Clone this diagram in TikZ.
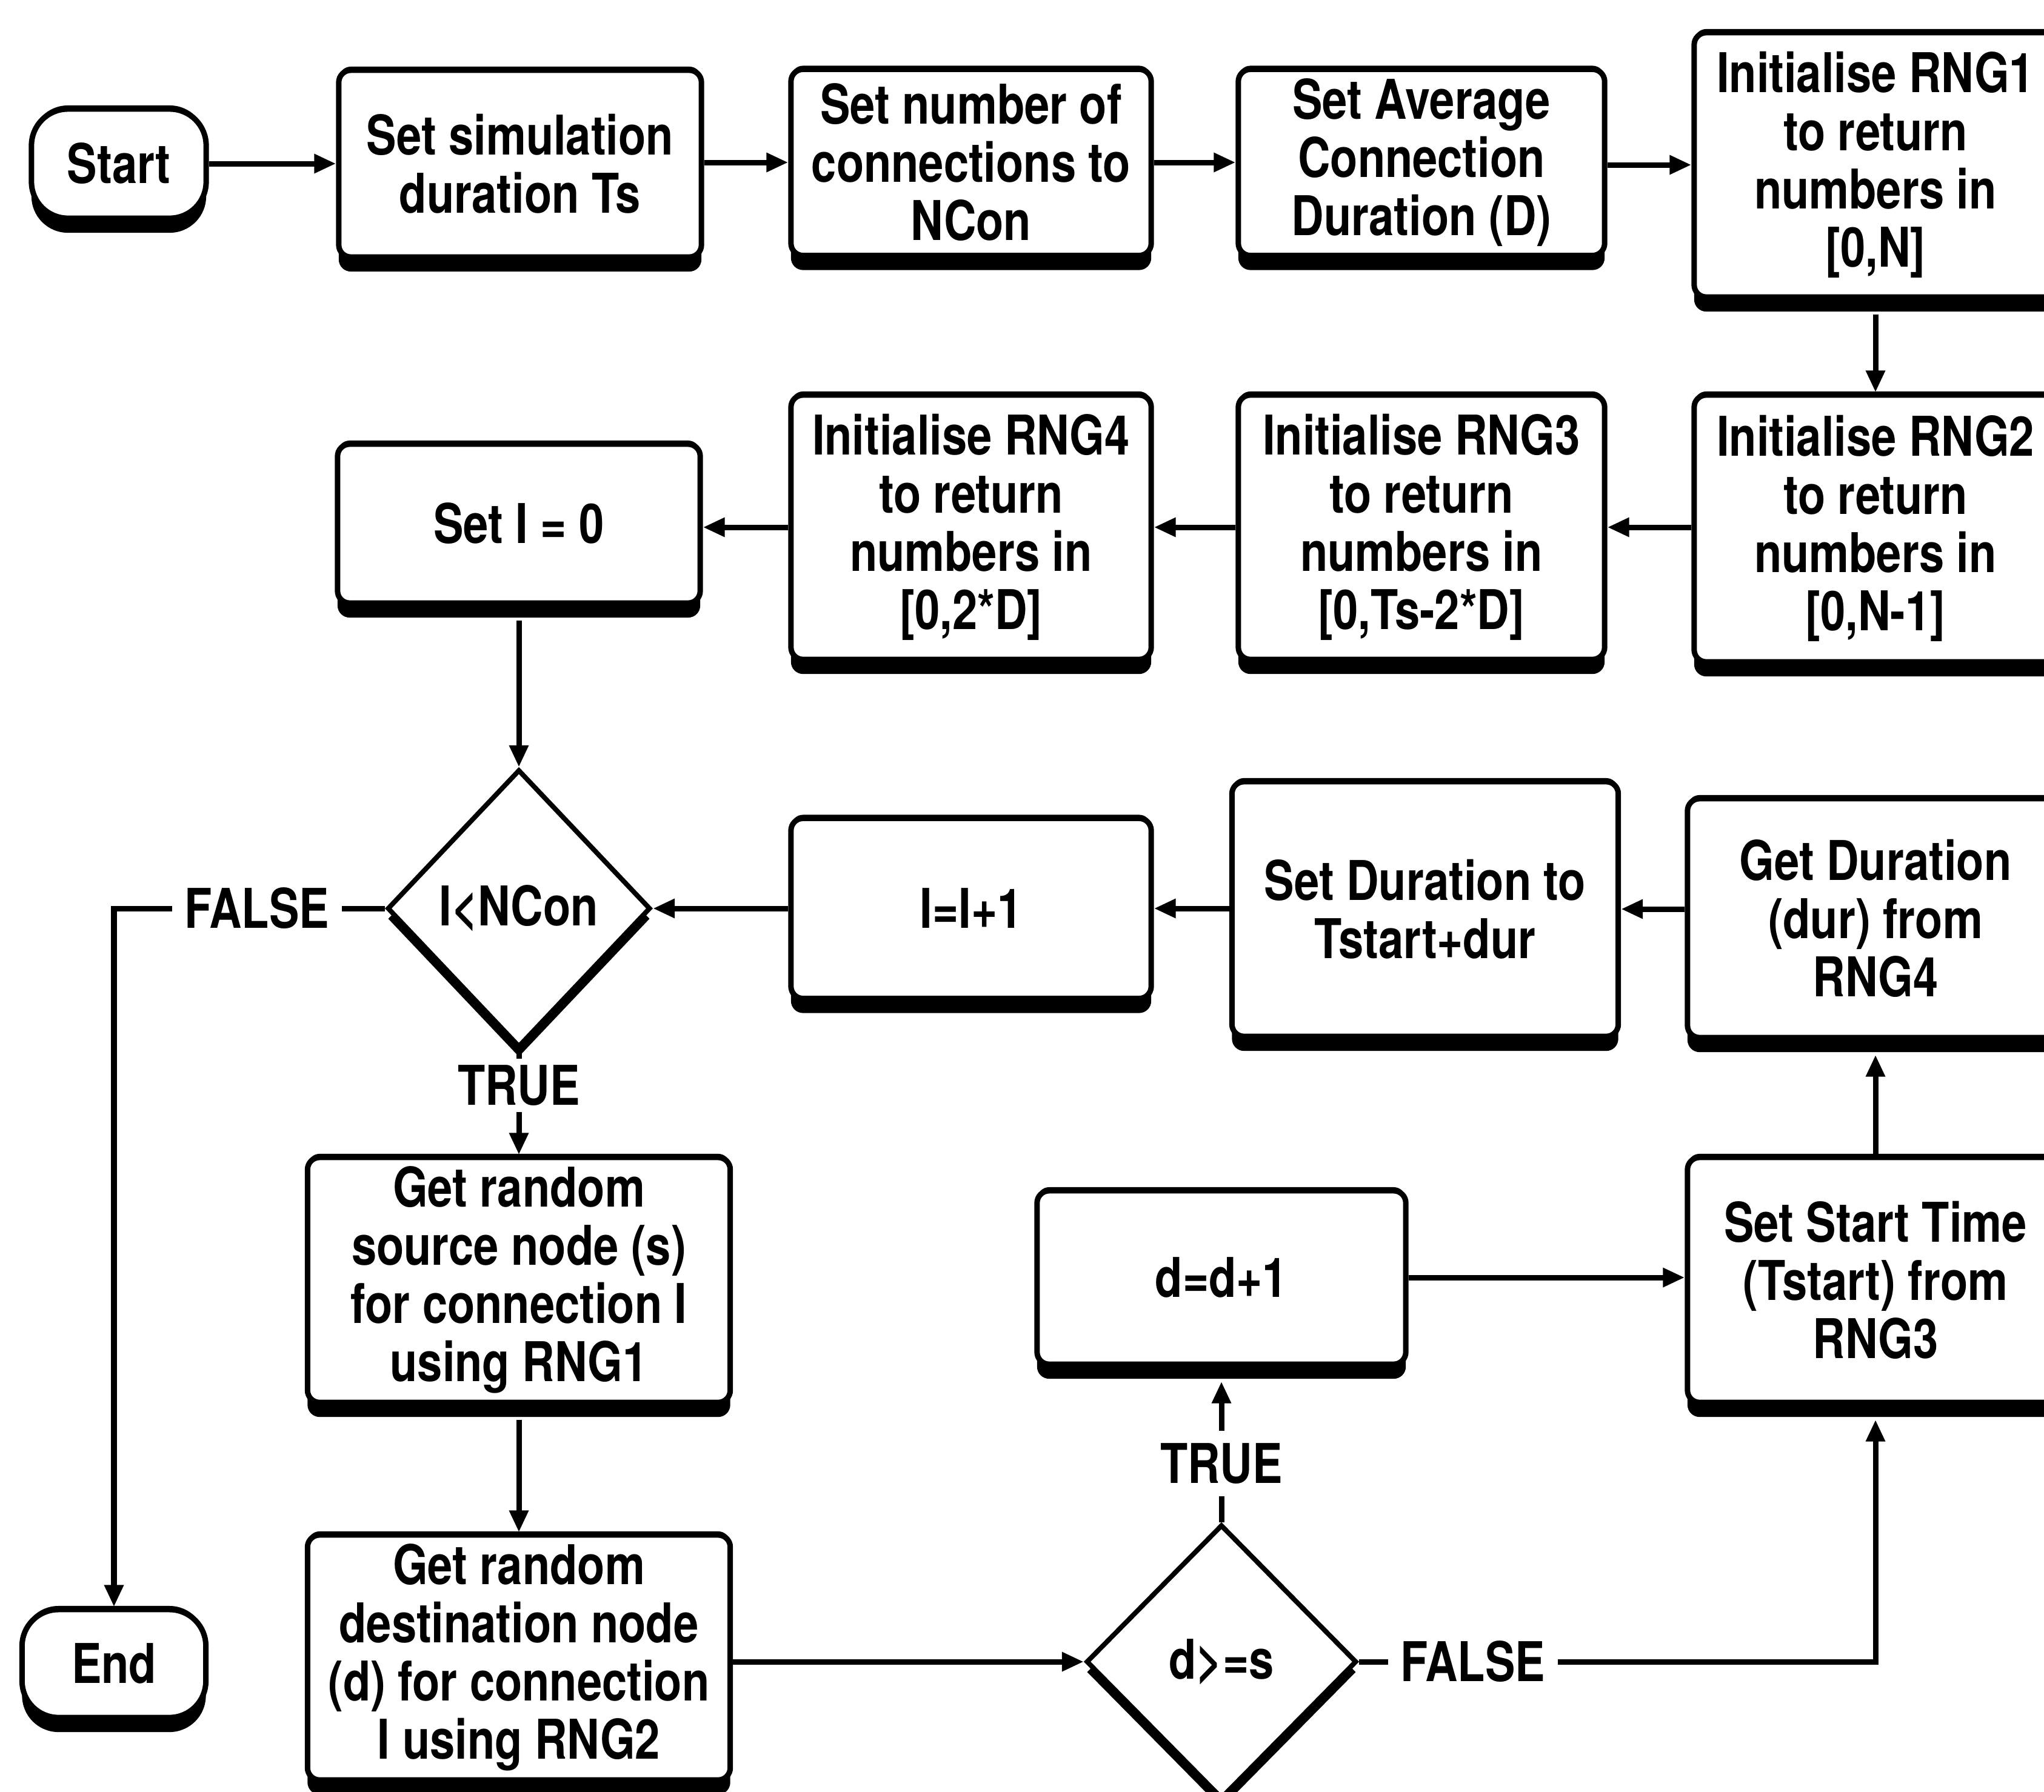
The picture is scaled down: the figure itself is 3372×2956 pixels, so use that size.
\documentclass[tikz,border=0pt]{standalone}
\usepackage{fontspec}
\newfontfamily\chartfont{TeX Gyre Heros}[FakeStretch=0.82]
\usetikzlibrary{arrows.meta,shapes.geometric,shadows}

\begin{document}
\begin{tikzpicture}[x=0.01cm, y=-0.01cm,
  every node/.style={font=\chartfont\bfseries\fontsize{25.7pt}{27.3pt}\selectfont},
  procbox/.style={draw, line width=0.09cm, rounded corners=0.2cm, fill=white,
    align=center, inner sep=0pt,
    general shadow={fill=black, shadow yshift=-0.24cm},
    general shadow={fill=black, shadow yshift=0.06cm}},
  termbox/.style={procbox, rounded corners=0.6cm},
  decision/.style={diamond, draw, line width=0.08cm, fill=white, inner sep=0pt,
    general shadow={fill=black, shadow yshift=-0.17cm}},
  lbl/.style={fill=white, inner sep=0.2cm},
  conn/.style={line width=0.09cm, -{Triangle[length=0.36cm,width=0.3cm]}},
  plain/.style={line width=0.09cm},
]
\path[use as bounding box] (0,0) rectangle (3372,2956);
\clip (0,0) rectangle (3372,2956);

% row 1: set-up steps
\node[termbox, minimum width=2.88cm, minimum height=1.80cm] (start) at (196,270) {Start};
\node[procbox, minimum width=5.98cm, minimum height=3.08cm] (sim) at (858,270) {Set simulation\\duration Ts};
\node[procbox, minimum width=5.94cm, minimum height=3.07cm] (ncon) at (1602,268) {Set number of\\connections to\\NCon};
\node[procbox, minimum width=6.04cm, minimum height=3.07cm] (avg) at (2345,268) {Set Average\\Connection\\Duration (D)};
\node[procbox, minimum width=5.98cm, minimum height=4.36cm] (rng1) at (3094,272) {Initialise RNG1\\to return\\numbers in\\{}[0,N]};

% row 2: generator initialisation
\node[procbox, minimum width=5.98cm, minimum height=4.40cm] (rng2) at (3094,872) {Initialise RNG2\\to return\\numbers in\\{}[0,N-1]};
\node[procbox, minimum width=6.04cm, minimum height=4.36cm] (rng3) at (2345,870) {Initialise RNG3\\to return\\numbers in\\{}[0,Ts-2*D]};
\node[procbox, minimum width=5.94cm, minimum height=4.36cm] (rng4) at (1602,870) {Initialise RNG4\\to return\\numbers in\\{}[0,2*D]};
\node[procbox, minimum width=5.98cm, minimum height=2.62cm] (seti) at (856,864) {Set I = 0};

% row 3: loop test and loop tail
\node[decision, minimum width=4.34cm, minimum height=4.58cm] (loop) at (856,1499) {I<NCon};
\node[procbox, minimum width=5.94cm, minimum height=2.97cm] (inc) at (1602,1499) {I=I+1};
\node[procbox, minimum width=6.37cm, minimum height=4.20cm] (setdur) at (2351,1500) {Set Duration to\\Tstart+dur};
\node[procbox, minimum width=6.20cm, minimum height=3.94cm] (getdur) at (3094,1515) {Get Duration\\(dur) from\\RNG4};

% row 4
\node[procbox, minimum width=6.97cm, minimum height=4.04cm] (src) at (856,2112) {Get random\\source node (s)\\for connection I\\using RNG1};
\node[procbox, minimum width=6.08cm, minimum height=2.86cm] (dinc) at (2015,2108) {d=d+1};
\node[procbox, minimum width=6.20cm, minimum height=4.04cm] (tstart) at (3094,2112) {Set Start Time\\(Tstart) from\\RNG3};

% row 5
\node[termbox, minimum width=3.03cm, minimum height=1.78cm] (end) at (188,2745) {End};
\node[procbox, minimum width=6.97cm, minimum height=4.04cm] (dst) at (856,2735) {Get random\\destination node\\(d) for connection\\I using RNG2};
\node[decision, minimum width=4.46cm, minimum height=4.52cm] (cmp) at (2015,2742) {d>=s};

% branch labels
\node[lbl] (f1) at (424,1499) {FALSE};
\node[lbl, inner sep=0.1cm] (t1) at (856,1791) {TRUE};
\node[lbl] (t2) at (2015,2415) {TRUE};
\node[lbl] (f2) at (2430,2742) {FALSE};

% connectors
\draw[conn] (start) -- (sim);
\draw[conn] (sim.east |- ncon.west) -- (ncon);
\draw[conn] (ncon) -- (avg);
\draw[conn] (avg.east |- rng1.west) -- (rng1.west);
\draw[conn, shorten <=0.24cm] (rng1) -- (rng2);
\draw[conn] (rng2.west |- rng3.east) -- (rng3.east);
\draw[conn] (rng3) -- (rng4);
\draw[conn] (rng4.west) -- (rng4.west -| seti.east);
\draw[conn, shorten <=0.24cm] (seti) -- (loop);
\draw[plain] (loop.west) -- (f1.east);
\draw[conn] (f1.west) -| (end.north);
\draw[plain] (loop.south) -- (t1.north);
\draw[conn] (t1.south) -- (src.north);
\draw[conn, shorten <=0.24cm] (src) -- (dst);
\draw[conn] (dst.east |- cmp.west) -- (cmp.west);
\draw[plain] (cmp.north) -- (t2.south);
\draw[conn, shorten >=0.24cm] (t2.north) -- (dinc.south);
\draw[plain] (cmp.east) -- (f2.west);
\draw[conn, shorten >=0.24cm] (f2.east) -| (tstart.south);
\draw[conn] (dinc.east) -- (dinc.east -| tstart.west);
\draw[conn, shorten >=0.24cm] (tstart.north) -- (getdur.south);
\draw[conn] (getdur.west |- setdur.east) -- (setdur.east);
\draw[conn] (setdur.west |- inc.east) -- (inc.east);
\draw[conn] (inc.west) -- (loop.east);
\end{tikzpicture}
\end{document}
